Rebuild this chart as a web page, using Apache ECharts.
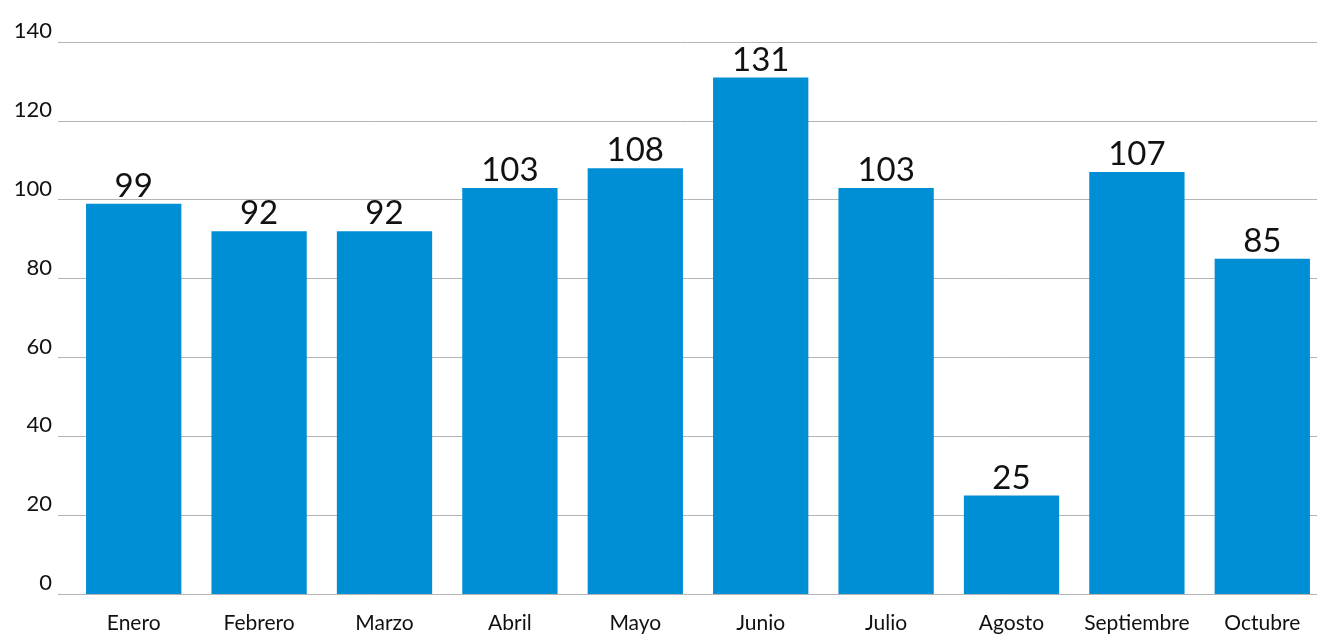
<!DOCTYPE html>
<html>
<head>
<meta charset="utf-8">
<script src="https://cdn.jsdelivr.net/npm/echarts@6/dist/echarts.min.js"></script>
<style>
  html, body { margin: 0; padding: 0; background: #fff; overflow: hidden; }
  #chart { width: 1330px; height: 635px; }
</style>
</head>
<body>
<div id="chart"></div>
<script>
var months = ['Enero', 'Febrero', 'Marzo', 'Abril', 'Mayo', 'Junio', 'Julio', 'Agosto', 'Septiembre', 'Octubre'];
var values = [99, 92, 92, 103, 108, 131, 103, 25, 107, 85];
var yMax = 140;
var yStep = 20;

var font = 'Lato';
// canvas is a bit wider than the window so the last bar can run past the edge
var chart = echarts.init(document.getElementById('chart'));

chart.setOption({
    backgroundColor: '#fff',
    animation: false,
    grid: [
        // gridlines + y labels
        { left: 58, right: 13, top: 42, bottom: 41 },
        // bars
        { left: 71, right: 5, top: 42, bottom: 41 }
    ],
    xAxis: [{
        type: 'category',
        gridIndex: 0,
        data: months,
        show: false
    }, {
        type: 'category',
        gridIndex: 1,
        data: months,
        axisLine: { show: false },
        axisTick: { show: false },
        axisLabel: {
            interval: 0,
            color: '#111',
            fontFamily: font,
            fontSize: 21,
            margin: 19
        }
    }],
    yAxis: [{
        type: 'value',
        gridIndex: 0,
        min: 0,
        max: yMax,
        interval: yStep,
        axisLine: { show: false },
        axisTick: { show: false },
        splitLine: { lineStyle: { color: '#b4b4b4', width: 1 } },
        axisLabel: {
            color: '#111',
            fontFamily: font,
            fontSize: 22,
            margin: 6,
            verticalAlign: 'bottom'
        }
    }, {
        type: 'value',
        gridIndex: 1,
        min: 0,
        max: yMax,
        interval: yStep,
        show: false
    }],
    series: [{
        type: 'bar',
        xAxisIndex: 1,
        yAxisIndex: 1,
        data: values,
        barWidth: '76%',
        itemStyle: { color: '#008ed4' },
        label: {
            show: true,
            position: 'top',
            distance: 1,
            color: '#111',
            fontFamily: font,
            fontSize: 33
        }
    }]
});
</script>
</body>
</html>
